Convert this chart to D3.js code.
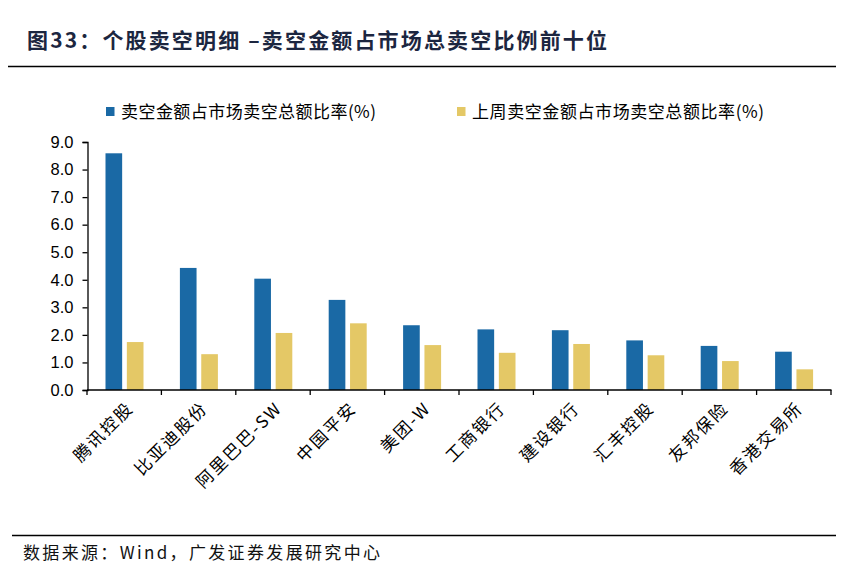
<!DOCTYPE html>
<html><head><meta charset="utf-8">
<script src="https://cdn.jsdelivr.net/npm/d3@7/dist/d3.min.js"></script>
<style>body{margin:0;background:#fff}svg{display:block}</style>
</head><body>
<svg id="c" width="864" height="583"></svg>
<script>
const categories = ["腾讯控股","比亚迪股份","阿里巴巴-SW","中国平安","美团-W","工商银行","建设银行","汇丰控股","友邦保险","香港交易所"];
const seriesNames = ["卖空金额占市场卖空总额比率(%)","上周卖空金额占市场卖空总额比率(%)"];
const current = [8.59,4.43,4.04,3.27,2.35,2.20,2.17,1.80,1.60,1.39];
const lastWeek = [1.74,1.30,2.07,2.42,1.63,1.35,1.67,1.26,1.05,0.75];
const yTicks = [0,1,2,3,4,5,6,7,8,9];
const colors = ["#1a69a5","#e4c866"];

const svg = d3.select("#c");
const cjk = "'Noto Sans CJK SC','Noto Sans',sans-serif";
const lat = "'Liberation Sans',Arial,sans-serif";

// title
svg.append("text").attr("x",27).attr("y",48).attr("font-family",cjk).attr("font-weight","bold")
  .attr("font-size",21).attr("fill","#1c2640")
  .attr("textLength",580).attr("lengthAdjust","spacing")
  .text("图33：个股卖空明细 –卖空金额占市场总卖空比例前十位");
svg.append("line").attr("x1",8).attr("x2",836).attr("y1",66.5).attr("y2",66.5).attr("stroke","#000").attr("stroke-width",1.3);
svg.append("line").attr("x1",12).attr("x2",836).attr("y1",535.5).attr("y2",535.5).attr("stroke","#000").attr("stroke-width",1.3);
svg.append("text").attr("x",23).attr("y",559).attr("font-family",cjk).attr("font-size",17).attr("fill","#111")
  .attr("textLength",357).attr("lengthAdjust","spacing")
  .text("数据来源：Wind，广发证券发展研究中心");

const x0 = d3.scaleBand().domain(categories).range([87,831]).padding(0);
const x1 = d3.scaleBand().domain([0,1]).range([18.5,56.5]).paddingInner(0.22);
const y = d3.scaleLinear().domain([0,9]).range([390,142]);

const data = categories.map((c,i)=>({c, v:[current[i], lastWeek[i]]}));
const g = svg.append("g");
g.selectAll("g.grp").data(data).join("g").attr("class","grp")
  .attr("transform",d=>`translate(${x0(d.c)},0)`)
  .selectAll("rect").data(d=>d.v.map((v,k)=>({v,k}))).join("rect")
  .attr("x",d=>x1(d.k)).attr("width",x1.bandwidth())
  .attr("y",d=>y(d.v)).attr("height",d=>y(0)-y(d.v))
  .attr("fill",d=>colors[d.k]);

// y axis
const ya = svg.append("g").attr("transform","translate(87.5,0)")
  .call(d3.axisLeft(y).tickValues(yTicks).tickFormat(d3.format(".1f")).tickSize(5).tickSizeOuter(5));
ya.select(".domain").attr("stroke","#000").attr("stroke-width",1.3);
ya.selectAll(".tick line").attr("stroke","#000").attr("stroke-width",1.3);
ya.selectAll(".tick text").attr("font-family",lat).attr("font-size",16.5).attr("fill","#000").attr("x",-14);

// x axis
const xa = svg.append("g").attr("transform","translate(0,390)");
xa.append("line").attr("x1",87).attr("x2",831.5).attr("y1",0).attr("y2",0).attr("stroke","#000").attr("stroke-width",1.6);
const bounds = categories.map(c=>x0(c)).concat([x0.range()[1]]);
xa.selectAll("line.t").data(bounds).join("line").attr("class","t")
  .attr("x1",d=>d).attr("x2",d=>d).attr("y1",0).attr("y2",5).attr("stroke","#000").attr("stroke-width",1.3);
xa.selectAll("text").data(categories).join("text")
  .attr("transform",d=>`translate(${x0(d)+x0.bandwidth()/2+6},${15}) rotate(-45)`)
  .attr("text-anchor","end").attr("dy","0.35em").attr("letter-spacing",2)
  .attr("font-family",cjk).attr("font-size",17).attr("fill","#000").text(d=>d);

// legend
const leg = [{x:106,w:255,t:seriesNames[0]},{x:457,w:292,t:seriesNames[1]}];
leg.forEach((l,i)=>{
  svg.append("rect").attr("x",l.x).attr("y",107).attr("width",8.5).attr("height",9).attr("fill",colors[i]);
  svg.append("text").attr("x",l.x+15).attr("y",118).attr("font-family",cjk).attr("font-size",17).attr("fill","#000")
    .attr("textLength",l.w).attr("lengthAdjust","spacing").text(l.t);
});
</script>
</body></html>
